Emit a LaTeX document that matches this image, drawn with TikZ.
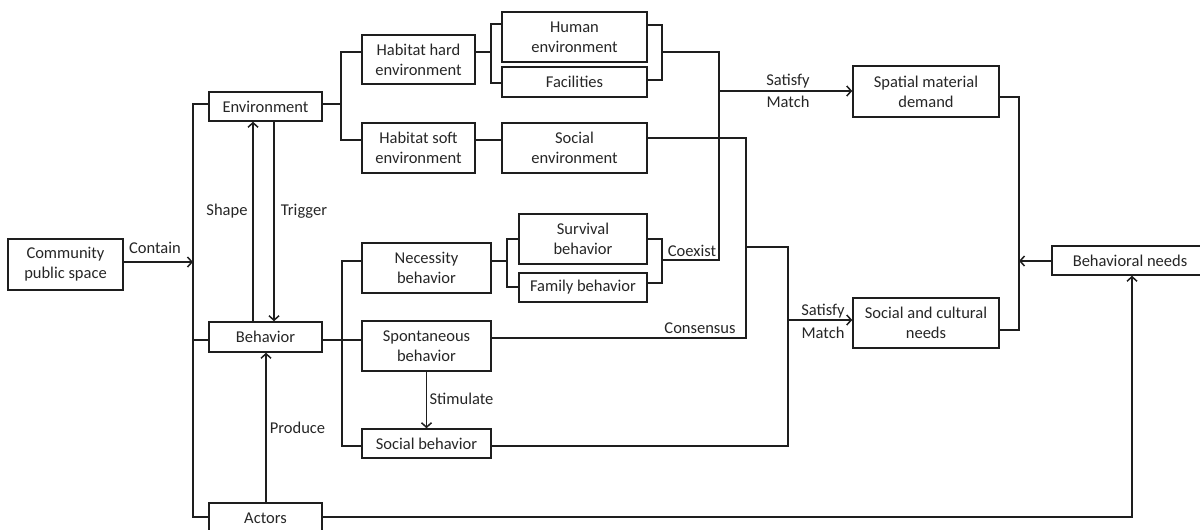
\documentclass[tikz,border=0pt]{standalone}
\usepackage{fontspec}
\setmainfont{Carlito}
\usetikzlibrary{arrows.meta}
\definecolor{ink}{HTML}{1E1E1E}
\definecolor{txt}{HTML}{262626}
\begin{document}
\begin{tikzpicture}[x=1pt,y=-1pt,
  font=\fontsize{16.5}{20}\selectfont,
  every node/.style={text=txt},
  box/.style={draw=ink,line width=1.5pt,align=center,inner sep=0pt,minimum width=#1},
  box/.default=113pt,
  wire/.style={draw=ink,line width=1.5pt},
  arr/.style={wire,-{Straight Barb[length=4.5pt,width=10pt,line width=1.5pt]}},
  lbl/.style={inner sep=0pt}]
\useasboundingbox (0,0) rectangle (1200,530);
% nodes
\node[box=115pt,minimum height=51pt] (cps) at (65.5,264.5) {Community\\public space};
\node[box,minimum height=29pt] (env) at (265.5,106.5) {Environment};
\node[box,minimum height=30pt] (beh) at (265.5,337) {Behavior};
\node[box,minimum height=30pt] (act) at (265.5,518) {Actors};
\node[box,minimum height=49pt] (hh) at (418.5,59.5) {Habitat hard\\environment};
\node[box,minimum height=50pt] (hs) at (418.5,148) {Habitat soft\\environment};
\node[box=145pt,minimum height=50pt] (he) at (574.5,37) {Human\\environment};
\node[box=145pt,minimum height=30pt] (fac) at (574.5,82) {Facilities};
\node[box=145pt,minimum height=50pt] (se) at (574.5,148) {Social\\environment};
\node[box=129pt,minimum height=50pt] (nb) at (426.5,268) {Necessity\\behavior};
\node[box=129pt,minimum height=50pt] (sb) at (426.5,346) {Spontaneous\\behavior};
\node[box=129pt,minimum height=29pt] (socb) at (426.5,443.5) {Social behavior};
\node[box=128pt,minimum height=50pt] (surv) at (583,239) {Survival\\behavior};
\node[box=128pt,minimum height=29pt] (fam) at (583,287.5) {Family behavior};
\node[box=146pt,minimum height=51pt] (smd) at (926,91.5) {Spatial material\\demand};
\node[box=146pt,minimum height=50pt] (scn) at (926,323) {Social and cultural\\needs};
\node[box=156pt,minimum height=29pt] (bn) at (1130,260.5) {Behavioral needs};
% junction coordinates
\coordinate (bus) at (193,262);
\coordinate (ej) at (341,104);
\coordinate (hj) at (491,52);
\coordinate (rj) at (662,52);
\coordinate (mj) at (719,91);
\coordinate (cj) at (662,260);
\coordinate (sj) at (746,247);
\coordinate (tj) at (788,320);
\coordinate (bj) at (342,340);
\coordinate (nj) at (507,261);
\coordinate (nd) at (1019,261);
% connectors
\draw[arr] (cps.east |- bus) -- (bus);
\draw[wire] (env.west |- 0,104) -- (193,104) -- (193,517) -- (act.west |- 0,517);
\draw[wire] (193,340) -- (beh.west |- 0,340);
\draw[arr] (beh.north -| 253,0) -- (env.south -| 253,0);
\draw[arr] (env.south -| 274,0) -- (beh.north -| 274,0);
\draw[arr] (act.north -| 266,0) -- (beh.south -| 266,0);
% environment branch
\draw[wire] (env.east |- ej) -- (ej);
\draw[wire] (hh.west |- 0,52) -- (341,52) -- (341,140) -- (hs.west |- 0,140);
\draw[wire] (hh.east |- hj) -- (hj);
\draw[wire] (he.west |- 0,24) -- (491,24) -- (491,83) -- (fac.west |- 0,83);
\draw[wire] (he.east |- 0,25) -- (662,25) -- (662,80) -- (fac.east |- 0,80);
\draw[wire] (rj) -- (719,52) -- (719,260) -- (cj);
\draw[arr] (mj) -- (smd.west |- mj);
\draw[wire] (hs.east |- 0,140) -- (se.west |- 0,140);
\draw[wire] (se.east |- 0,138) -- (746,138) -- (746,338) -- (sb.east |- 0,338);
\draw[wire] (sj) -- (788,247) -- (788,446) -- (socb.east |- 0,446);
\draw[arr] (tj) -- (scn.west |- tj);
% behavior branch
\draw[wire] (beh.east |- bj) -- (sb.west |- bj);
\draw[wire] (nb.west |- 0,261) -- (342,261) -- (342,446) -- (socb.west |- 0,446);
\draw[wire] (nb.east |- nj) -- (nj);
\draw[wire] (surv.west |- 0,239) -- (507,239) -- (507,287) -- (fam.west |- 0,287);
\draw[wire] (surv.east |- 0,239) -- (662,239) -- (662,283) -- (fam.east |- 0,283);
\draw[arr] (sb.south) -- (socb.north);
% needs
\draw[wire] (smd.east |- 0,97) -- (1019,97) -- (1019,330) -- (scn.east |- 0,330);
\draw[arr] (bn.west |- nd) -- (nd);
\draw[arr] (act.east |- 0,517) -- (1132,517) -- (bn.south -| 1132,0);
% labels
\node[lbl] (lcontain) at (155,248) {Contain};
\node[lbl] (lshape) at (227,211) {Shape};
\node[lbl] (ltrigger) at (304,211) {Trigger};
\node[lbl] (lproduce) at (297.5,428) {Produce};
\node[lbl] (lstim) at (461.5,399) {Stimulate};
\node[lbl] (lsat1) at (788,81) {Satisfy};
\node[lbl] (lmat1) at (788,102) {Match};
\node[lbl] (lsat2) at (823,311) {Satisfy};
\node[lbl] (lmat2) at (823,333) {Match};
\node[lbl] (lcoex) at (692,251) {Coexist};
\node[lbl] (lcons) at (700,328) {Consensus};
\end{tikzpicture}
\end{document}
